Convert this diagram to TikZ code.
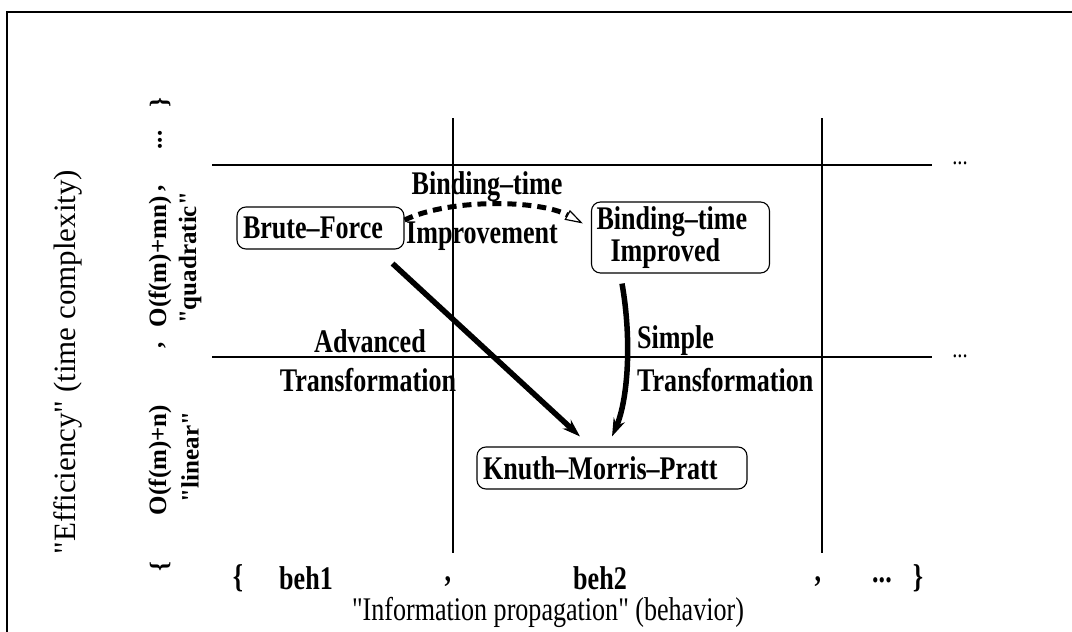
\documentclass[tikz,border=0pt]{standalone}
\usepackage{fontspec}
\newfontfamily\hfont{Liberation Serif}[FakeStretch=0.79]
\newfontfamily\rotfont{Liberation Serif}
\usetikzlibrary{arrows.meta}
\begin{document}
\begin{tikzpicture}[x=1pt,y=-1pt,
  hlbl/.style={font=\hfont\fontsize{33}{30}\selectfont\bfseries, inner sep=0pt, align=center},
  reglbl/.style={font=\hfont\fontsize{33}{30}\selectfont, inner sep=0pt},
  rlbl/.style={font=\rotfont\fontsize{25}{26}\selectfont\bfseries, rotate=90, inner sep=0pt},
  box/.style={draw, line width=1.1pt, rounded corners=9pt, inner ysep=0pt, inner xsep=6pt, align=left,
              font=\hfont\fontsize{33}{30}\selectfont\bfseries},
  gridline/.style={line width=1.1pt},
  flow/.style={line width=5.5pt, -{Stealth[length=18pt,width=12pt,inset=6pt]}},
  btflow/.style={line width=5pt, dash pattern=on 9pt off 6pt,
                 -{Triangle[fill=white,length=18pt,width=11pt,line width=1.2pt]}},
]
\useasboundingbox (0,0) rectangle (1072,632);
% frame
\draw[line width=2pt] (7,632) -- (7,12) -- (1072,12);
% grid
\draw[gridline] (212,165) -- (932,165);
\draw[gridline] (212,357) -- (932,357);
\draw[gridline] (453,118) -- (453,553);
\draw[gridline] (822,118) -- (822,553);
\node[font=\hfont\fontsize{26}{26}\selectfont, inner sep=0pt] (dots1) at (960,163) {...};
\node[font=\hfont\fontsize{26}{26}\selectfont, inner sep=0pt] (dots2) at (960,356) {...};

% boxes
\node[box, text width=155pt, minimum height=42pt] (bf) at (320.5,228) {Brute–Force};
\node[box, text width=168pt, minimum height=71pt, inner xsep=5pt] (bti) at (680.5,237.5) {Binding–time\\\hspace*{14pt}Improved};
\node[box, text width=258pt, minimum height=42pt] (kmp) at (612,468) {Knuth–Morris–Pratt};

% connectors
\draw[btflow] ([yshift=8pt]bf.east) .. controls (450,198) and (540,200) .. ([xshift=-8pt,yshift=14pt]bti.west);
\draw[flow] ([xshift=-12pt,yshift=-14pt]bf.south east) -- ([xshift=-32pt,yshift=10pt]kmp.north);
\draw[flow] ([xshift=-58.5pt,yshift=-10pt]bti.south) .. controls (632,340) and (628,400) .. ([yshift=10pt]kmp.north);

% edge labels
\node[hlbl] (btl) at (487,187) {Binding–time};
\node[hlbl] (impl) at (482,236) {Improvement};
\node[hlbl] (adv) at (370,341) {Advanced};
\node[hlbl] (tr1) at (368,380) {Transformation};
\node[hlbl, anchor=west] (sim) at (637,341) {Simple};
\node[hlbl, anchor=west] (tr2) at (637,380) {Transformation};

% x axis
\node[hlbl] (xo) at (238,578) {\{};
\node[hlbl] (xb1) at (306,578) {beh1};
\node[hlbl] (xc1) at (448,582) {,};
\node[hlbl] (xb2) at (600,578) {beh2};
\node[hlbl] (xc2) at (818,582) {,};
\node[hlbl] (xd) at (882,580) {...};
\node[hlbl] (xcl) at (918,578) {\}};
\node[reglbl] (xlab) at (548,612) {"Information propagation" (behavior)};

% y axis
\node[rlbl] (yo) at (160,567) {\{};
\node[rlbl] (y1) at (160,460) {O(f(m)+n)};
\node[rlbl] (y1n) at (190,457) {"linear"};
\node[rlbl] (yc1) at (162,345) {,};
\node[rlbl] (y2) at (160,262) {O(f(m)+mn)};
\node[rlbl] (y2n) at (190,258) {"quadratic"};
\node[rlbl] (yc2) at (162,188) {,};
\node[rlbl] (yd) at (160,140) {...};
\node[rlbl] (ycl) at (160,103) {\}};
\node[rotate=90, font=\rotfont\fontsize{31}{31}\selectfont, inner sep=0pt] (ylab) at (68,362) {"Efficiency" (time complexity)};
\end{tikzpicture}
\end{document}
